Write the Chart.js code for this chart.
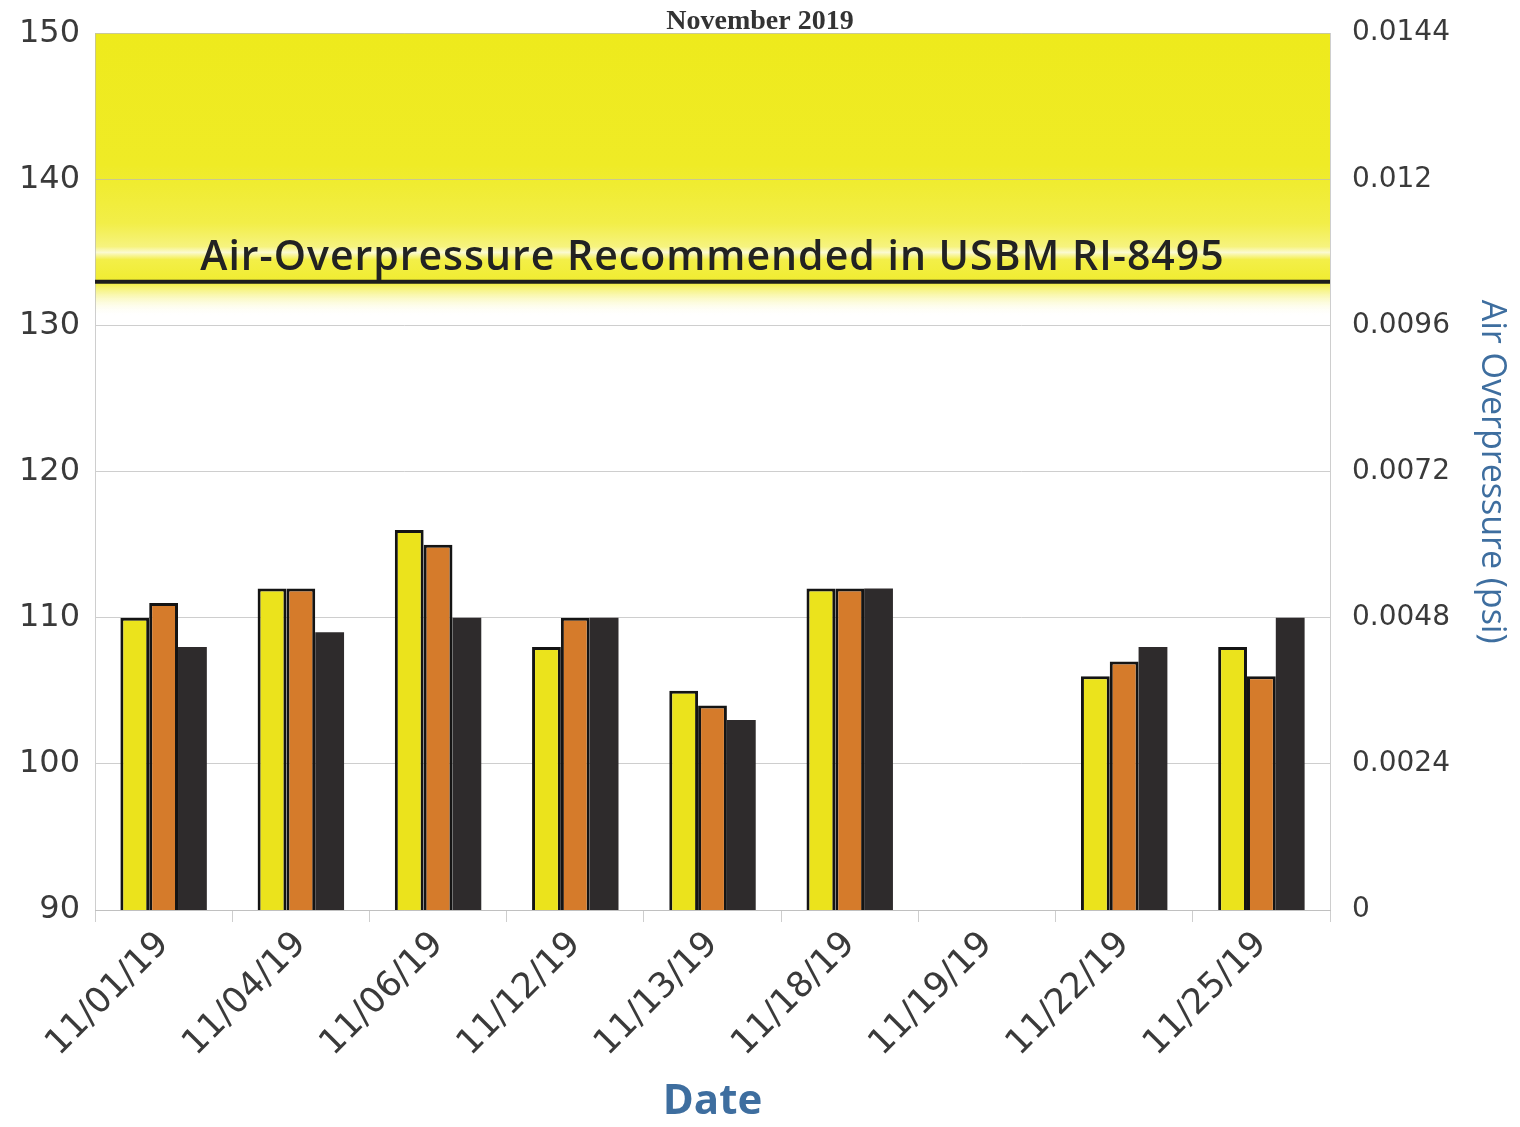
<!DOCTYPE html>
<html>
<head>
<meta charset="utf-8">
<script src="https://cdn.jsdelivr.net/npm/chart.js@4.4.1/dist/chart.umd.min.js"></script>
<style>
  html, body { margin: 0; padding: 0; background: #fff; }
  #wrap { width: 1520px; height: 1127px; position: relative; }
</style>
</head>
<body>
<div id="wrap"><canvas id="c"></canvas></div>
<script>
// Blast monitoring, air overpressure per shot date (dB, left axis; psi, right axis)
const DATES = ["11/01/19", "11/04/19", "11/06/19", "11/12/19", "11/13/19",
               "11/18/19", "11/19/19", "11/22/19", "11/25/19"];
const SERIES_A = [110, 112, 116, 108, 105, 112, null, 106, 108]; // yellow
const SERIES_B = [111, 112, 115, 110, 104, 112, null, 107, 106]; // orange
const SERIES_C = [108, 109, 110, 110, 103, 112, null, 108, 110]; // dark
const DB_MIN = 90, DB_MAX = 150, DB_STEP = 10;
const PSI_MAX = 0.0144, PSI_STEP = 0.0024;
const LIMIT_DB = 133;          // USBM RI-8495 recommended limit
const BAND_LOW = 130.6;        // where the yellow shading fades out
const LIMIT_LABEL = "Air-Overpressure Recommended in USBM RI-8495";

const YELLOW = "#ebe31c";
const ORANGE = "#d57b2b";
const DARK = "#2e2b2c";
const GRID = "rgba(185,185,185,0.7)";
const TICK = "#3a3a3a";
const BLUE = "#3e6e9f";

// Yellow "excessive" zone behind the grid, fading out just under the limit line.
const limitBand = {
  id: "limitBand",
  beforeDraw(chart) {
    const { ctx, chartArea: a, scales: { y } } = chart;
    const top = y.getPixelForValue(DB_MAX);
    const bot = y.getPixelForValue(BAND_LOW);
    const g = ctx.createLinearGradient(0, top, 0, bot);
    const at = (v) => (y.getPixelForValue(v) - top) / (bot - top);
    g.addColorStop(0, "#eeea1c");
    g.addColorStop(at(141), "#efeb26");
    g.addColorStop(at(137), "#f2ee48");
    g.addColorStop(at(135.4), "#f6f37e");
    g.addColorStop(at(135), "#fbfad0");
    g.addColorStop(at(134.5), "#f3ef48");
    g.addColorStop(at(LIMIT_DB), "#f0ec30");
    g.addColorStop(1, "rgba(255,255,255,0)");
    ctx.save();
    ctx.fillStyle = g;
    ctx.fillRect(a.left, top, a.right - a.left, bot - top);
    ctx.restore();
  },
  afterDatasetsDraw(chart) {
    const { ctx, chartArea: a, scales: { y } } = chart;
    const py = y.getPixelForValue(LIMIT_DB);
    ctx.save();
    ctx.strokeStyle = "#1c1c1c";
    ctx.lineWidth = 4;
    ctx.beginPath();
    ctx.moveTo(a.left, py);
    ctx.lineTo(a.right, py);
    ctx.stroke();
    ctx.font = "600 41px 'Open Sans', sans-serif";
    ctx.fillStyle = "#222";
    ctx.textAlign = "center";
    ctx.textBaseline = "alphabetic";
    ctx.letterSpacing = "1px";
    ctx.fillText(LIMIT_LABEL, (a.left + a.right) / 2, py - 12);
    ctx.restore();
  },
};

function barSet(label, data, color, border) {
  return {
    label,
    data,
    backgroundColor: color,
    borderColor: "#141414",
    borderWidth: border ? 3 : 0,
    borderSkipped: "bottom",
    yAxisID: "y",
  };
}

new Chart(document.getElementById("c"), {
  type: "bar",
  data: {
    labels: DATES,
    datasets: [
      barSet("Station 1", SERIES_A, YELLOW, true),
      barSet("Station 2", SERIES_B, ORANGE, true),
      barSet("Station 3", SERIES_C, DARK, false),
    ],
  },
  options: {
    responsive: true,
    maintainAspectRatio: false,
    animation: false,
    categoryPercentage: 0.63,
    barPercentage: 1.0,
    layout: { padding: 0 },
    plugins: {
      legend: { display: false },
      tooltip: { enabled: false },
      title: {
        display: true,
        text: "November 2019",
        color: "#333",
        font: { family: "'Liberation Serif', serif", size: 28, weight: "bold", lineHeight: 0.85 },
        padding: { top: 2, bottom: 0 },
      },
    },
    scales: {
      x: {
        offset: true,
        grid: { display: true, drawOnChartArea: false, drawTicks: true, tickLength: 12, color: GRID },
        border: { display: true, color: GRID },
        ticks: {
          color: TICK,
          font: { family: "'DejaVu Sans', sans-serif", size: 35 },
          minRotation: 45,
          maxRotation: 45,
          padding: 2,
          autoSkip: false,
        },
        title: {
          display: true,
          text: "Date",
          color: BLUE,
          font: { family: "'Open Sans', sans-serif", size: 42, weight: "bold", lineHeight: 1.2 },
          padding: { top: 0, bottom: 0 },
        },
        afterFit(scale) { scale.height = 217; },
      },
      y: {
        position: "left",
        min: DB_MIN,
        max: DB_MAX,
        ticks: {
          stepSize: DB_STEP,
          color: TICK,
          padding: 15,
          font: { family: "'DejaVu Sans', sans-serif", size: 32, lineHeight: 0.8 },
        },
        grid: { color: GRID, drawTicks: false },
        border: { display: true, color: GRID },
        afterFit(scale) { scale.width = 95; },
      },
      y2: {
        position: "right",
        min: 0,
        max: PSI_MAX,
        ticks: {
          stepSize: PSI_STEP,
          color: TICK,
          padding: 22,
          font: { family: "'DejaVu Sans', sans-serif", size: 28, lineHeight: 0.8 },
          callback: (v) => (v === 0 ? "0" : String(+v.toFixed(4))),
        },
        grid: { drawOnChartArea: false, drawTicks: false },
        border: { display: true, color: GRID },
        title: {
          display: true,
          text: "Air Overpressure (psi)",
          color: BLUE,
          font: { family: "'Open Sans', sans-serif", size: 34, lineHeight: 1.2 },
          padding: { top: 8, bottom: 0 },
        },
        afterFit(scale) { scale.width = 190; },
      },
    },
  },
  plugins: [limitBand],
});
</script>
</body>
</html>
